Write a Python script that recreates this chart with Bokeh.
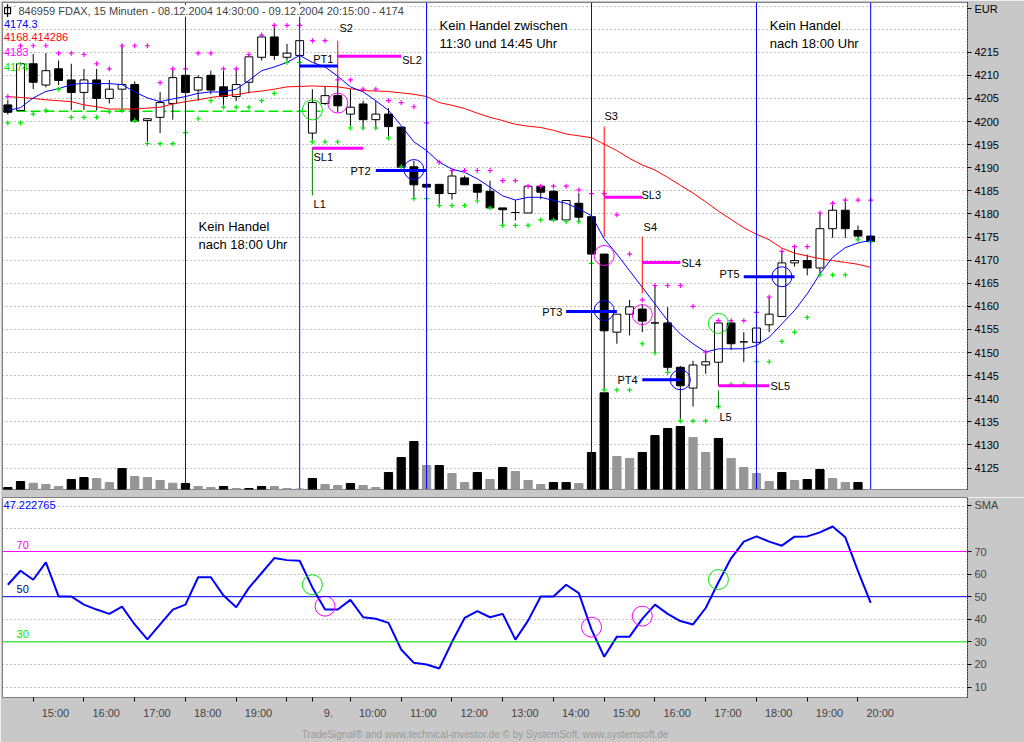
from bokeh.plotting import figure
from bokeh.models import Range1d, FixedTicker, Span, Label
from bokeh.layouts import column
from bokeh.embed import file_html
from bokeh.resources import INLINE
from bokeh.core.properties import value

FONT = "Liberation Sans"
PANEL_GRAY = "#c8c8c8"
BLUE = "#0000ff"
RED = "#ff0000"
MAGENTA = "#ff00ff"
LIME = "#00e600"
DKGREEN = "#008000"

# ---------------- data ----------------
times = ["14:30", "14:45", "15:00", "15:15", "15:30", "15:45", "16:00", "16:15", "16:30", "16:45",
         "17:00", "17:15", "17:30", "17:45", "18:00", "18:15", "18:30", "18:45", "19:00", "19:15",
         "19:30", "19:45", "20:00", "20:15",
         "09:15", "09:30", "09:45", "10:00", "10:15", "10:30", "10:45", "11:00", "11:15", "11:30",
         "11:45", "12:00", "12:15", "12:30", "12:45", "13:00", "13:15", "13:30", "13:45", "14:00",
         "14:15", "14:30", "14:45", "15:00", "15:15", "15:30", "15:45", "16:00", "16:15", "16:30",
         "16:45", "17:00", "17:15", "17:30", "17:45", "18:00", "18:15", "18:30", "18:45", "19:00",
         "19:15", "19:30", "19:45", "20:00", "20:15"]

opens = [4203.6, 4202.4, 4212.5, 4207.9, 4211.4, 4209.0, 4206.3, 4209.0, 4205.0, 4207.0,
         4208.0, 4200.2, 4200.9, 4203.9, 4210.0, 4206.8, 4210.0, 4207.5, 4205.4, 4208.5,
         4213.9, 4218.3, 4213.9, 4214.3,
         4197.5, 4203.9, 4205.6, 4201.6, 4203.8, 4200.4, 4201.6, 4198.8, 4190.2, 4186.4,
         4186.4, 4184.4, 4187.8, 4186.4, 4184.9, 4181.3, 4180.3, 4180.2, 4186.0, 4184.9,
         4178.7, 4182.3, 4179.4, 4171.3, 4154.4, 4158.3, 4159.4, 4156.4, 4156.4, 4146.8,
         4142.3, 4147.3, 4147.9, 4156.4, 4152.3, 4152.2, 4156.0, 4157.8, 4169.4, 4169.9,
         4168.3, 4176.8, 4180.8, 4176.4, 4175.2]
highs = [4204.7, 4212.8, 4214.6, 4214.8, 4213.2, 4212.5, 4211.4, 4211.4, 4209.0, 4216.4,
         4208.7, 4200.7, 4206.4, 4211.4, 4210.2, 4210.0, 4211.0, 4211.6, 4211.6, 4214.6,
         4218.9, 4220.8, 4216.8, 4217.7,
         4207.0, 4207.7, 4209.6, 4207.0, 4204.5, 4204.5, 4202.9, 4198.8, 4191.5, 4186.4,
         4186.4, 4189.4, 4188.3, 4186.4, 4187.2, 4181.3, 4183.0, 4186.0, 4186.0, 4185.2,
         4183.0, 4184.5, 4179.6, 4171.3, 4158.3, 4161.4, 4160.5, 4164.5, 4159.8, 4147.1,
         4148.2, 4150.0, 4156.9, 4156.9, 4154.4, 4155.3, 4162.0, 4171.9, 4172.9, 4171.2,
         4180.3, 4182.3, 4183.2, 4177.5, 4175.5]
lows = [4201.5, 4202.3, 4207.0, 4207.4, 4207.9, 4202.4, 4202.5, 4202.4, 4203.9, 4202.4,
        4200.0, 4195.4, 4197.5, 4200.4, 4206.1, 4204.5, 4205.9, 4203.2, 4204.4, 4206.1,
        4213.2, 4213.3, 4213.3, 4213.2,
        4195.6, 4203.6, 4202.0, 4198.4, 4198.4, 4198.4, 4196.4, 4190.1, 4183.3, 4185.8,
        4181.8, 4183.1, 4186.3, 4183.0, 4181.3, 4177.5, 4178.6, 4180.2, 4183.2, 4178.7,
        4178.7, 4178.2, 4171.3, 4141.8, 4151.9, 4153.7, 4154.4, 4149.9, 4145.7, 4135.2,
        4138.3, 4145.4, 4142.8, 4150.5, 4147.9, 4152.2, 4154.4, 4157.8, 4168.6, 4166.7,
        4166.7, 4174.8, 4174.8, 4174.5, 4174.0]
closes = [4202.0, 4212.5, 4208.5, 4211.0, 4208.9, 4206.3, 4209.0, 4205.0, 4207.0, 4208.0,
          4200.1, 4200.6, 4204.1, 4209.5, 4206.3, 4209.5, 4206.8, 4205.4, 4208.0, 4214.0,
          4218.3, 4214.3, 4214.8, 4217.5,
          4204.1, 4205.6, 4203.4, 4203.1, 4200.4, 4201.6, 4198.9, 4190.1, 4186.3, 4185.8,
          4184.4, 4188.2, 4186.3, 4184.7, 4181.3, 4180.9, 4180.3, 4186.0, 4184.7, 4178.7,
          4182.9, 4179.3, 4171.3, 4154.7, 4158.3, 4159.9, 4156.8, 4156.4, 4146.8, 4142.8,
          4147.3, 4148.0, 4156.4, 4151.9, 4152.3, 4155.3, 4158.3, 4169.4, 4169.9, 4168.3,
          4176.8, 4180.8, 4176.8, 4175.2, 4174.0]

sma_fast = [4202.4, 4203.0, 4205.1, 4206.5, 4207.1, 4208.0, 4208.3, 4208.2, 4208.2, 4208.0,
            4206.4, 4205.1, 4204.3, 4204.9, 4205.4, 4206.1, 4206.4, 4206.4, 4207.0, 4208.9,
            4211.0, 4211.8, 4212.8, 4214.3,
            4212.8, 4211.8, 4209.8, 4207.5, 4206.4, 4204.5, 4202.4, 4199.1, 4195.6, 4193.7,
            4191.2, 4189.7, 4189.0, 4187.6, 4185.8, 4183.9, 4183.0, 4183.6, 4183.6, 4182.9,
            4182.3, 4181.1, 4179.6, 4174.6, 4171.3, 4167.7, 4164.1, 4160.5, 4156.9, 4154.0,
            4151.9, 4150.1, 4150.8, 4150.8, 4150.8, 4151.5, 4153.3, 4156.2, 4159.1, 4162.7,
            4167.0, 4170.6, 4172.7, 4173.7, 4174.3]
sma_slow = [4205.4, 4205.2, 4205.0, 4204.7, 4204.5, 4204.3, 4203.6, 4203.2, 4202.7, 4202.7,
            4202.7, 4202.9, 4203.1, 4203.8, 4204.3, 4204.7, 4205.2, 4205.6, 4205.8, 4206.3,
            4206.6, 4207.0, 4207.5, 4207.6,
            4207.7, 4207.6, 4207.5, 4207.1, 4206.7, 4206.6, 4206.5, 4206.2, 4205.9, 4205.4,
            4204.1, 4203.5, 4202.8, 4201.8, 4200.9, 4200.2, 4199.4, 4199.0, 4198.7, 4198.1,
            4197.3, 4196.9, 4196.5, 4195.1, 4193.7, 4192.0, 4190.6, 4189.5, 4187.9, 4186.2,
            4184.5, 4182.6, 4180.6, 4178.8, 4177.0, 4175.6, 4174.4, 4172.6, 4171.5, 4170.9,
            4170.3, 4169.9, 4169.5, 4169.1, 4168.414286]
upper_stop = [4205.4, 4216.4, 4216.4, 4216.4, 4214.8, 4214.8, 4214.5, 4212.5, 4211.4, 4216.4,
              4216.4, 4216.4, 4208.4, 4211.4, 4211.4, 4214.8, 4214.8, 4211.4, 4211.4, 4214.5,
              4218.7, 4220.8, 4220.8, 4220.8,
              4217.5, 4217.5, 4209.0, 4209.0, 4207.0, 4207.0, 4204.5, 4204.1, 4203.2, 4199.7,
              4191.2, 4189.4, 4189.4, 4189.4, 4189.4, 4187.2, 4187.2, 4186.0, 4186.0, 4186.0,
              4186.0, 4185.2, 4184.4, 4184.4, 4179.8, 4171.3, 4161.4, 4164.5, 4164.5, 4164.5,
              4160.0, 4150.1, 4156.9, 4156.9, 4156.9, 4158.7, 4162.0, 4171.9, 4172.9, 4172.9,
              4180.2, 4182.3, 4183.0, 4183.0, 4183.0]
lower_stop = [4199.7, 4199.7, 4201.6, 4202.4, 4207.0, 4200.9, 4200.9, 4200.9, 4202.1, 4202.4,
              4200.2, 4195.2, 4195.2, 4195.2, 4197.6, 4200.6, 4204.5, 4203.1, 4203.1, 4203.1,
              4204.5, 4206.1, 4212.8, 4212.8,
              4195.6, 4195.6, 4195.6, 4198.6, 4198.6, 4198.6, 4196.4, 4190.2, 4183.3, 4183.3,
              4181.8, 4181.8, 4181.8, 4182.8, 4181.3, 4177.5, 4177.5, 4177.5, 4178.7, 4178.7,
              4178.3, 4178.3, 4169.3, 4141.9, 4141.9, 4141.9, 4151.9, 4149.9, 4145.7, 4135.2,
              4135.2, 4135.2, 4138.3, 4143.1, 4143.1, 4148.0, 4148.0, 4152.4, 4154.4, 4157.6,
              4166.8, 4166.8, 4166.8, 4174.4, 4174.0]

volume = [200, 800, 630, 500, 300, 1000, 1200, 1100, 700, 2100,
          1300, 1200, 900, 630, 600, 300, 200, 300, 100, 100,
          300, 300, 100, 50,
          1100, 500, 400, 600, 400, 200, 1700, 3200, 4800, 2400,
          2400, 1600, 700, 1700, 1000, 2200, 1800, 900, 500, 700,
          700, 600, 3700, 9670, 3300, 3100, 3700, 5400, 6100, 6300,
          5200, 3700, 5100, 3100, 2200, 1600, 800, 1700, 900, 1000,
          2000, 1100, 700, 700, 0]
volume_up = [1, 1, 0, 0, 0, 1, 1, 0, 0, 1,
             0, 0, 0, 0, 1, 0, 0, 1, 0, 1,
             1, 0, 0, 0,
             1, 0, 0, 1, 0, 0, 1, 1, 1, 0,
             1, 0, 0, 1, 0, 1, 0, 0, 0, 1,
             1, 0, 1, 1, 0, 0, 1, 1, 1, 1,
             0, 0, 1, 0, 0, 0, 0, 1, 0, 1,
             1, 0, 0, 1, 0]

rsi = [55.3, 61.5, 57.5, 65.2, 50.1, 50.1, 46.5, 44.3, 42.4, 45.6,
       37.7, 31.1, 37.7, 44.3, 46.5, 58.6, 58.6, 50.5, 45.3, 53.9,
       60.5, 67.1, 66.2, 65.9,
       54.1, 44.3, 44.3, 48.6, 40.9, 40.2, 38.4, 26.6, 20.7, 20.0,
       18.2, 29.9, 40.6, 43.6, 40.9, 42.4, 31.0, 39.4, 50.1, 50.1,
       55.3, 51.6, 35.4, 23.4, 32.3, 32.3, 40.2, 46.5, 42.4, 39.2,
       37.7, 45.0, 56.4, 67.0, 74.4, 76.7, 74.4, 72.6, 76.6, 76.7,
       78.5, 81.1, 76.3, 61.3, 47.222765]

# session markers (bar index)
session_bars = [14, 23, 33, 46, 59, 68]
support_level = 4202.2
support_end = 24.8

# trade annotations
pt_names = ["PT1", "PT2", "PT3", "PT4", "PT5"]
pt_start = [23, 29, 44, 50, 58]
pt_end = [26, 33, 48, 53, 62]
pt_level = [4212.0, 4189.4, 4158.9, 4144.1, 4166.4]
pt_label_x = [24.07, 27.0, 42.11, 48.05, 56.08]
pt_label_y = [4213.6, 4189.2, 4158.7, 4144.1, 4167.1]

sl_names = ["SL1", "SL2", "SL3", "SL4", "SL5"]
sl_start = [24, 26, 47, 50, 56]
sl_end = [28, 31, 50, 53, 60]
sl_level = [4194.2, 4214.1, 4183.6, 4169.5, 4142.8]
sl_label_x = [24.09, 31.08, 49.94, 53.09, 60.1]
sl_label_y = [4192.4, 4213.4, 4184.2, 4169.3, 4142.8]

short_names = ["S2", "S3", "S4"]
short_bar = [26, 47, 50]
short_top = [4217.5, 4198.9, 4175.1]
short_bottom = [4209.3, 4175.0, 4162.8]
short_label_x = [26.14, 47.02, 50.1]
short_label_y = [4220.3, 4201.3, 4177.1]

long_names = ["L1", "L5"]
long_bar = [24, 56]
long_top = [4194.4, 4141.8]
long_bottom = [4184.0, 4138.1]
long_label_x = [24.09, 56.08]
long_label_y = [4182.2, 4136.1]

circle_bar = [24, 26, 32, 47, 47, 50, 53, 56, 61]
circle_level = [4202.5, 4204.0, 4189.6, 4171.0, 4159.1, 4158.2, 4144.1, 4156.3, 4166.4]
circle_color = [LIME, MAGENTA, BLUE, MAGENTA, BLUE, MAGENTA, BLUE, LIME, BLUE]

rsi_circle_bar = [24, 25, 46, 50, 56]
rsi_circle_val = [55.3, 45.8, 36.5, 41.4, 57.6]
rsi_circle_color = [LIME, MAGENTA, MAGENTA, MAGENTA, LIME]

notes = ["Kein Handel\nnach 18:00 Uhr", "Kein Handel zwischen\n11:30 und 14:45 Uhr", "Kein Handel\nnach 18:00 Uhr"]
notes_x = [15.03, 34.02, 60.05]
notes_y = [4178.8, 4222.3, 4222.3]

axis_tick_bars = [2, 6, 10, 14, 18, 22, 24, 27, 31, 35, 39, 43, 47, 51, 55, 59, 63, 67]
axis_tick_text = ["15:00", "16:00", "17:00", "18:00", "19:00", "", "9.", "10:00", "11:00", "12:00",
                  "13:00", "14:00", "15:00", "16:00", "17:00", "18:00", "19:00", "20:00"]

price_ticks = [4125, 4130, 4135, 4140, 4145, 4150, 4155, 4160, 4165, 4170, 4175, 4180,
               4185, 4190, 4195, 4200, 4205, 4210, 4215]
price_grid = price_ticks + [4220, 4225]
currency_pos = 4224.4
rsi_ticks = [10, 20, 30, 40, 50, 60, 70]
rsi_grid = [10, 20, 30, 40, 50, 60, 70, 80, 90]
rsi_name_pos = 90.4

# header icon position (bar units / price units)
icon_x = -0.02
icon_y = 4224.0
icon_top = 4225.4
icon_bottom = 4222.6

bars = list(range(len(closes)))

# ---------------- price panel ----------------
x_rng = Range1d(-0.42, 75.63)
p = figure(x_range=x_rng, y_range=Range1d(4120.35, 4225.76),
           frame_width=965, frame_height=487,
           min_border_left=2, min_border_right=57, min_border_top=2, min_border_bottom=8,
           x_axis_location=None, y_axis_location="right",
           toolbar_location=None, output_backend="svg", title=None,
           background_fill_color="white", border_fill_color=PANEL_GRAY,
           outline_line_color="#808080")
p.extra_y_ranges = {"vol": Range1d(0, 48700)}

p.xgrid.visible = False
p.ygrid.ticker = FixedTicker(ticks=price_grid)
p.ygrid.grid_line_color = "#808080"
p.ygrid.grid_line_dash = "1 3"

ya = p.yaxis[0]
ya.ticker = FixedTicker(ticks=price_ticks + [currency_pos])
ya.major_label_overrides = {currency_pos: "EUR"}
ya.major_label_text_font = FONT
ya.major_label_text_font_size = "11px"
ya.major_label_text_color = "black"
ya.major_tick_in = 0
ya.major_tick_out = 4
ya.minor_tick_line_color = None
ya.axis_line_dash = "1 2"
ya.axis_line_color = "black"
ya.major_label_standoff = 3

vol_colors = ["black" if u else "#969696" for u in volume_up]
p.vbar(x=bars, top=volume, bottom=0, width=0.65, fill_color=vol_colors,
       line_color=vol_colors, y_range_name="vol")

p.segment(x0=[-0.42], y0=[support_level], x1=[support_end], y1=[support_level],
          line_color=LIME, line_width=1.5, line_dash="10 4")

body_top = [max(o, c) for o, c in zip(opens, closes)]
body_bot = [min(o, c) for o, c in zip(opens, closes)]
body_fill = ["white" if c >= o else "black" for o, c in zip(opens, closes)]
p.segment(x0=bars, y0=lows, x1=bars, y1=highs, line_color="black", line_width=1)
p.vbar(x=bars, top=body_top, bottom=body_bot, width=0.62, fill_color=body_fill,
       line_color="black", line_width=1)

p.line(bars, sma_slow, line_color=RED, line_width=1)
p.line(bars, sma_fast, line_color=BLUE, line_width=1)

p.scatter(bars, upper_stop, marker="cross", size=5, line_color=MAGENTA, line_width=1.2)
p.scatter(bars, lower_stop, marker="cross", size=5, line_color=LIME, line_width=1.2)

for b in session_bars:
    p.add_layout(Span(location=b, dimension="height", line_color=BLUE, line_width=1))

p.segment(x0=short_bar, y0=short_bottom, x1=short_bar, y1=short_top, line_color=RED, line_width=1)
p.segment(x0=long_bar, y0=long_bottom, x1=long_bar, y1=long_top, line_color=DKGREEN, line_width=1)
p.segment(x0=pt_start, y0=pt_level, x1=pt_end, y1=pt_level, line_color=BLUE, line_width=3)
p.segment(x0=sl_start, y0=sl_level, x1=sl_end, y1=sl_level, line_color=MAGENTA, line_width=3)

p.scatter(circle_bar, circle_level, marker="circle", size=20, fill_color=None,
          line_color=circle_color, line_width=1)


def add_text(fig, xs, ys, texts, color="black", size="11px", baseline="middle"):
    fig.text(x=xs, y=ys, text=texts, text_color=color, text_font=value(FONT),
             text_font_size=size, text_align="left", text_baseline=baseline)


add_text(p, pt_label_x, pt_label_y, pt_names)
add_text(p, sl_label_x, sl_label_y, sl_names)
add_text(p, short_label_x, short_label_y, short_names)
add_text(p, long_label_x, long_label_y, long_names)
add_text(p, notes_x, notes_y, notes, size="13px", baseline="top")

p.add_layout(Label(x=0.84, y=4224.0, text="846959  FDAX, 15 Minuten - 08.12.2004 14:30:00 - 09.12.2004 20:15:00 - "
                   + f"{closes[-1]:.0f}",
                   text_font=FONT, text_font_size="11px", text_baseline="middle",
                   background_fill_color="white"))
# small header icon
p.scatter([icon_x], [icon_y], marker="square", size=6, fill_color="white",
          line_color="black", line_width=1.2)
p.segment(x0=[icon_x], y0=[icon_bottom], x1=[icon_x], y1=[icon_top],
          line_color="black", line_width=1.2)

add_text(p, [-0.31], [4221.1], [f"{sma_fast[-1]:.1f}"], color=BLUE)
add_text(p, [-0.31], [4218.3], [f"{sma_slow[-1]:.6f}"], color=RED)
add_text(p, [-0.31], [4215.0], [f"{upper_stop[-1]:.0f}"], color=MAGENTA)
add_text(p, [-0.31], [4211.9], [f"{lower_stop[-1]:.0f}"], color=LIME)

# ---------------- RSI panel ----------------
r = figure(x_range=x_rng, y_range=Range1d(5.35, 93.94),
           frame_width=965, frame_height=200,
           min_border_left=2, min_border_right=57, min_border_top=0, min_border_bottom=45,
           y_axis_location="right", toolbar_location=None, output_backend="svg", title=None,
           background_fill_color="white", border_fill_color=PANEL_GRAY,
           outline_line_color="#808080")
r.xgrid.visible = False
r.ygrid.ticker = FixedTicker(ticks=rsi_grid)
r.ygrid.grid_line_color = "#808080"
r.ygrid.grid_line_dash = "1 3"

ry = r.yaxis[0]
ry.ticker = FixedTicker(ticks=rsi_ticks + [rsi_name_pos])
ry.major_label_overrides = {rsi_name_pos: "SMA"}
ry.major_label_text_font = FONT
ry.major_label_text_font_size = "11px"
ry.major_tick_in = 0
ry.major_tick_out = 4
ry.minor_tick_line_color = None
ry.axis_line_dash = "1 2"
ry.major_label_standoff = 3

label_pos = []
overrides = {}
for b, t in zip(axis_tick_bars, axis_tick_text):
    if t:
        pos = b + (1.25 if t.endswith(".") else 1.75)
        label_pos.append(pos)
        overrides[pos] = t
rx = r.xaxis[0]
rx.ticker = FixedTicker(ticks=label_pos, minor_ticks=axis_tick_bars)
rx.major_label_overrides = overrides
rx.major_tick_line_color = None
rx.major_tick_in = 0
rx.major_tick_out = 4
rx.minor_tick_in = 0
rx.minor_tick_out = 4
rx.minor_tick_line_color = "black"
rx.axis_line_color = None
rx.major_label_text_font = FONT
rx.major_label_text_font_size = "11px"
rx.major_label_standoff = 5
rx.axis_label = "TradeSignal® and www.technical-investor.de © by SystemSoft, www.systemsoft.de"
rx.axis_label_text_font = FONT
rx.axis_label_text_font_size = "10px"
rx.axis_label_text_font_style = "normal"
rx.axis_label_text_color = "#9a9a9a"
rx.axis_label_standoff = 7

r.add_layout(Span(location=70, dimension="width", line_color=MAGENTA, line_width=1))
r.add_layout(Span(location=50, dimension="width", line_color=BLUE, line_width=1))
r.add_layout(Span(location=30, dimension="width", line_color=LIME, line_width=1))

r.line(bars, rsi, line_color=BLUE, line_width=2)
r.scatter(rsi_circle_bar, rsi_circle_val, marker="circle", size=20, fill_color=None,
          line_color=rsi_circle_color, line_width=1)

add_text(r, [-0.34], [90.4], [f"{rsi[-1]:.6f}"], color=BLUE)
add_text(r, [0.69], [72.7], ["70"], color=MAGENTA)
add_text(r, [0.69], [53.2], ["50"], color="#000080")
add_text(r, [0.69], [33.3], ["30"], color=LIME)

layout = column(p, r, spacing=0)
open("out.html", "w").write(file_html(layout, INLINE))
